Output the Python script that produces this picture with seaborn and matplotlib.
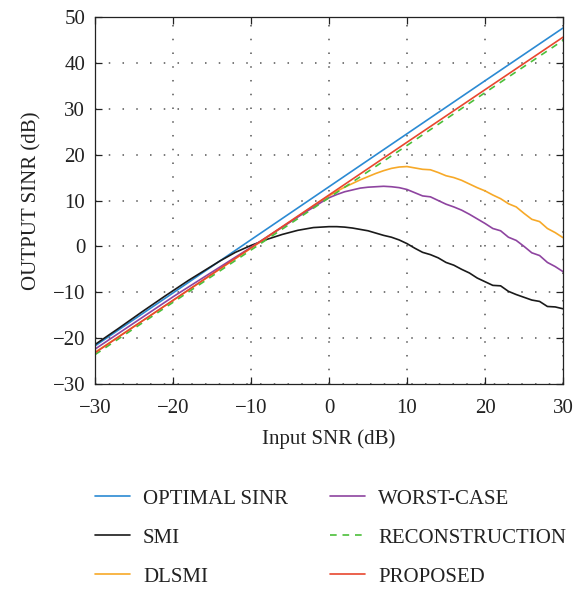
import numpy as np
import pandas as pd
import matplotlib
matplotlib.use("Agg")
import matplotlib.pyplot as plt
import seaborn as sns

# ---------------- data ----------------
snr_lin = [-30, -20, -10, 0, 10, 20, 30]
optimal_sinr = [-21.7, -10.15, 1.45, 13.0, 24.55, 36.1, 47.6]
reconstruction = [-23.6, -12.2, -0.8, 10.6, 22.0, 33.5, 44.9]
proposed = [-23.2, -11.75, -0.3, 11.2, 22.7, 34.15, 45.6]

snr_smi = [-30, -27, -24, -21, -18, -16, -14, -12, -10, -8, -6, -4, -2, 0, 1,
           2, 3, 4, 5, 6, 7, 8, 9, 10, 11, 12, 13, 14, 15, 16, 17, 18, 19,
           20, 21, 22, 23, 24, 25, 26, 27, 28, 29, 30]
smi = [-21.4, -17.9, -14.3, -10.8, -7.4, -5.3, -3.2, -1.3, 0.2, 1.5, 2.6,
       3.5, 4.1, 4.3, 4.3, 4.2, 4.0, 3.7, 3.4, 2.9, 2.4, 2.0, 1.4, 0.6,
       -0.4, -1.3, -1.8, -2.5, -3.5, -4.1, -5.0, -5.8, -6.9, -7.7, -8.5,
       -8.6, -9.8, -10.5, -11.1, -11.7, -12.0, -13.1, -13.2, -13.6]

snr_dl = [-30, -20, -10, -5, -2, 0, 1, 2, 3, 4, 5, 6, 7, 8, 9, 10, 11, 12,
          13, 14, 15, 16, 17, 18, 19, 20, 21, 22, 23, 24, 25, 26, 27, 28,
          29, 30]
dlsmi = [-23.1, -11.8, -0.4, 5.3, 8.8, 11.0, 12.0, 12.9, 13.7, 14.5, 15.2,
         15.9, 16.5, 17.0, 17.3, 17.4, 17.1, 16.8, 16.7, 16.1, 15.4, 15.0,
         14.4, 13.6, 12.8, 12.1, 11.2, 10.4, 9.3, 8.6, 7.2, 5.9, 5.4, 3.9,
         3.0, 1.9]

snr_wc = [-30, -20, -10, -5, -3, -2, -1, 0, 1, 2, 3, 4, 5, 6, 7, 8, 9, 10,
          11, 12, 13, 14, 15, 16, 17, 18, 19, 20, 21, 22, 23, 24, 25, 26,
          27, 28, 29, 30]
worst_case = [-22.4, -11.0, -0.2, 5.3, 7.5, 8.5, 9.6, 10.6, 11.3, 11.9, 12.3,
              12.7, 12.9, 13.0, 13.1, 13.0, 12.8, 12.4, 11.7, 11.0, 10.8,
              10.0, 9.2, 8.6, 7.9, 7.0, 6.0, 5.0, 3.9, 3.4, 2.0, 1.3, 0.0,
              -1.4, -2.0, -3.5, -4.4, -5.5]

x_ticks = [-30, -20, -10, 0, 10, 20, 30]
y_ticks = [-30, -20, -10, 0, 10, 20, 30, 40, 50]

# ---------------- styling ----------------
sns.set_theme(style="ticks")
plt.rcParams["font.family"] = ["Liberation Serif", "DejaVu Serif"]

W, H = 578, 589
FS = 15
fig = plt.figure(figsize=(W / 100, H / 100), dpi=100)
ax = fig.add_axes([95 / W, 1 - 384 / H, (563 - 95) / W, (384 - 17) / H])

lw = 1.2
sns.lineplot(x=snr_lin, y=optimal_sinr, ax=ax, color="#2b8ad3", lw=lw,
             label="OPTIMAL SINR")
sns.lineplot(x=snr_smi, y=smi, ax=ax, color="#1a1a1a", lw=lw, label="SMI")
sns.lineplot(x=snr_dl, y=dlsmi, ax=ax, color="#f7a928", lw=lw, label="DLSMI")
sns.lineplot(x=snr_wc, y=worst_case, ax=ax, color="#8e44a0", lw=lw,
             label="WORST-CASE")
sns.lineplot(x=snr_lin, y=reconstruction, ax=ax, color="#4cbf3a", lw=lw,
             linestyle=(0, (4, 3.5)), label="RECONSTRUCTION")
sns.lineplot(x=snr_lin, y=proposed, ax=ax, color="#e8472f", lw=lw,
             label="PROPOSED")

ax.set_xlim(-30, 30)
ax.set_ylim(-30, 50)
ax.set_xticks(x_ticks)
ax.set_yticks(y_ticks)
ax.set_xticklabels([str(v).replace("-", "\u2212") for v in x_ticks])
ax.set_yticklabels([str(v).replace("-", "\u2212") for v in y_ticks])
ax.tick_params(direction="in", length=5, width=0.9, top=True, right=True,
               labelsize=FS, colors="#222222")
ax.tick_params(axis="x", pad=11)
ax.tick_params(axis="y", pad=7)
for s in ax.spines.values():
    s.set_color("#222222")
    s.set_linewidth(0.9)
ax.grid(True, color="#555555", linestyle=(0, (1, 8)), linewidth=1.1)
ax.set_axisbelow(True)

ax.set_xlabel("Input SNR (dB)", fontsize=FS, color="#222222", labelpad=8)
ax.set_ylabel("OUTPUT SINR (dB)", fontsize=FS, color="#222222", labelpad=8)

handles, labels = ax.get_legend_handles_labels()
ax.get_legend().remove()
fig.legend(handles, labels, loc="upper left", ncol=2, frameon=False,
           bbox_to_anchor=(95 / W, 1 - 489 / H), borderpad=0,
           borderaxespad=0, fontsize=FS, handlelength=1.68,
           handletextpad=0.63, columnspacing=2.0, labelspacing=0.93,
           labelcolor="#222222")

fig.savefig("out.png", dpi=100)
